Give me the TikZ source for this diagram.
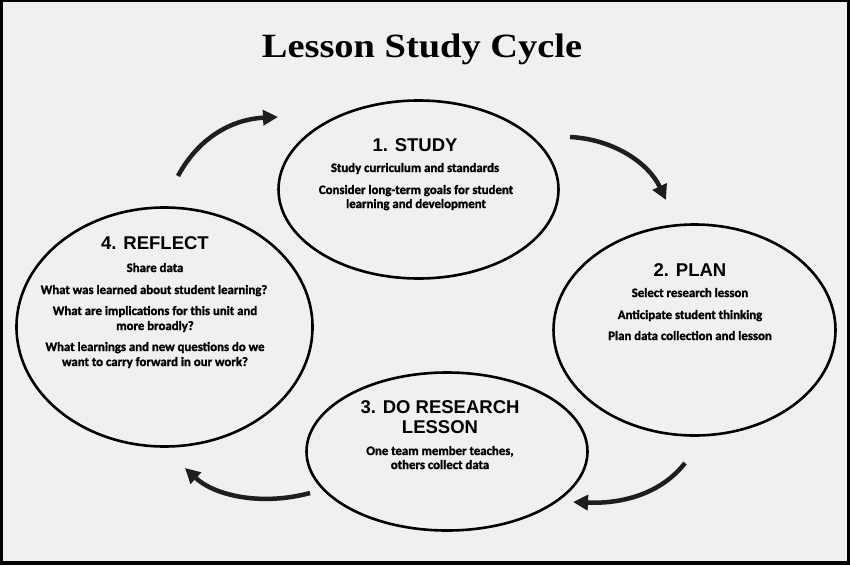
\documentclass[tikz,border=0pt]{standalone}
\usepackage{fontspec}
\setmainfont{Liberation Serif}
\newfontfamily\hdfont{Liberation Sans}
\newfontfamily\bdfont{Carlito}[BoldFeatures={FakeBold=1.6}]
\usetikzlibrary{arrows.meta,shapes.geometric}
\definecolor{bg}{HTML}{F0F0F0}
\definecolor{ink}{HTML}{1E1E1E}
\begin{document}
\begin{tikzpicture}[x=1pt,y=-1pt,
  cyc/.style={ellipse, draw=black, line width=2.6pt, inner sep=0pt},
  hd/.style={anchor=base, font=\hdfont\bfseries\fontsize{18.5}{20}\selectfont, inner sep=0pt},
  bd/.style={anchor=base, font=\bdfont\bfseries\fontsize{12.8}{14}\selectfont, inner sep=0pt},
  flow/.style={line width=4.5pt, draw=ink, -{Triangle[length=15pt,width=15pt]}}
]
\useasboundingbox (0,0) rectangle (850,565);
\fill[black] (0,0) rectangle (850,565);
\fill[bg] (3,2) rectangle (847,561);

% title
\node[anchor=base, inner sep=0pt, xscale=1.13, font=\bfseries\fontsize{34}{38}\selectfont] (title) at (422,57) {Lesson Study Cycle};

% ellipses
\node[cyc, minimum width=280pt, minimum height=178pt] (study) at (418.5,189.5) {};
\node[cyc, minimum width=282pt, minimum height=211pt] (plan) at (694.5,330) {};
\node[cyc, minimum width=296pt, minimum height=239pt] (reflect) at (164.5,327) {};
\node[cyc, minimum width=281pt, minimum height=158pt] (doles) at (447,451.5) {};

% 1. STUDY
\node[hd] (sh) at (415,151.5) {1. STUDY};
\node[bd] (s1) at (415,172) {Study curriculum and standards};
\node[bd] (s2) at (416,194) {Consider long-term goals for student};
\node[bd] (s3) at (416,208) {learning and development};

% 2. PLAN
\node[hd] (ph) at (690,276.5) {2. PLAN};
\node[bd] (p1) at (690,297) {Select research lesson};
\node[bd] (p2) at (690,319) {Anticipate student thinking};
\node[bd] (p3) at (690,340) {Plan data collection and lesson};

% 3. DO RESEARCH LESSON
\node[hd] (dh1) at (440,413.5) {3. DO RESEARCH};
\node[hd] (dh2) at (440,433.5) {LESSON};
\node[bd] (d1) at (440,455) {One team member teaches,};
\node[bd] (d2) at (440,469) {others collect data};

% 4. REFLECT
\node[hd] (rh) at (155,249.5) {4. REFLECT};
\node[bd] (r1) at (155,272) {Share data};
\node[bd] (r2) at (154,294) {What was learned about student learning?};
\node[bd] (r3) at (155,315) {What are implications for this unit and};
\node[bd] (r4) at (155,330) {more broadly?};
\node[bd] (r5) at (155,351) {What learnings and new questions do we};
\node[bd] (r6) at (155,366) {want to carry forward in our work?};

% arrows
\coordinate (a1s) at (178,176);
\coordinate (a1e) at (278,117);
\coordinate (a2s) at (570,137);
\coordinate (a2e) at (666,200);
\coordinate (a3s) at (685,463);
\coordinate (a3e) at (573,502);
\coordinate (a4s) at (310,493);
\coordinate (a4e) at (185,468);

\draw[flow] (a1s) .. controls (200,135) and (235,119) .. (a1e);
\draw[flow] (a2s) .. controls (612,139) and (648,162) .. (a2e);
\draw[flow] (a3s) .. controls (660,495) and (620,504) .. (a3e);
\draw[flow] (a4s) .. controls (262,506) and (215,496) .. (a4e);
\end{tikzpicture}
\end{document}
